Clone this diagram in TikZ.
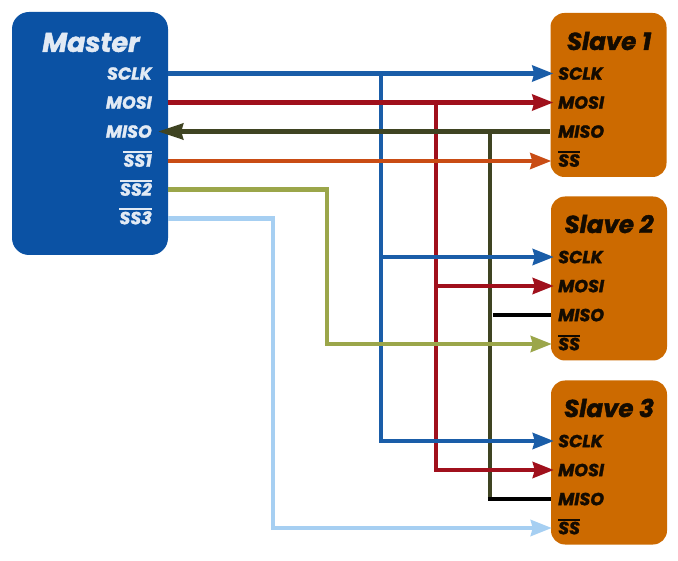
\documentclass[tikz,border=0pt]{standalone}
\usepackage{fontspec}
\setmainfont{Poppins}[BoldItalicFeatures={FakeBold=1.6}]
\usetikzlibrary{arrows.meta}
\definecolor{masterblue}{HTML}{0B52A4}
\definecolor{slaveorange}{HTML}{CC6A00}
\definecolor{sclkblue}{HTML}{1A5DA8}
\definecolor{mosired}{HTML}{A0101C}
\definecolor{misoolive}{HTML}{3F4422}
\definecolor{ssone}{HTML}{C94C14}
\definecolor{sstwo}{HTML}{9BA64A}
\definecolor{ssthree}{HTML}{A6CFF2}
\tikzset{
  x=1pt,y=-1pt,
  masterbox/.style={draw=none,fill=masterblue,rounded corners=17pt,minimum width=156pt,minimum height=243pt,inner sep=0pt},
  slavebox/.style={draw=none,fill=slaveorange,rounded corners=14pt,minimum width=116pt,minimum height=164pt,inner sep=0pt},
  mtitle/.style={font=\fontsize{27}{27}\selectfont\bfseries\itshape,text=white!88!masterblue,inner sep=0pt},
  stitle/.style={font=\fontsize{24.5}{24.5}\selectfont\bfseries\itshape,text=black!90!slaveorange,inner sep=0pt},
  mpin/.style={font=\fontsize{17.5}{17.5}\selectfont\bfseries\itshape,text=white!88!masterblue,inner sep=0pt,anchor=mid east},
  spin/.style={font=\fontsize{17.5}{17.5}\selectfont\bfseries\itshape,text=black!90!slaveorange,inner sep=0pt,anchor=mid west},
  wire/.style={line width=4.1pt,line join=miter},
  tip/.style={-{Stealth[length=21pt,width=16pt,inset=2pt]}},
  revtip/.style={{Stealth[length=25pt,width=16pt,inset=2pt]}-},
}
\newcommand{\ovl}[1]{\vbox{\hrule height 1.6pt\kern 1.2pt\hbox{#1}}}
\begin{document}
\begin{tikzpicture}
\useasboundingbox (0,0) rectangle (678,561);
\fill[white] (0,0) rectangle (678,561);
\node[masterbox] (master) at (90,133.5) {};
\node[slavebox] (s1) at (608.5,95) {};
\node[slavebox] (s2) at (609,278.5) {};
\node[slavebox] (s3) at (609,462.5) {};
\node[mtitle] (mt) at (91,42.5) {Master};
\node[stitle] (s1t) at (609,41) {Slave 1};
\node[stitle] (s2t) at (609,224) {Slave 2};
\node[stitle] (s3t) at (609,408) {Slave 3};
\node[mpin] (msclk) at (152,77) {SCLK};
\node[mpin] (mmosi) at (152,106) {MOSI};
\node[mpin] (mmiso) at (152,135) {MISO};
\node[mpin] (mssa) at (152,164) {\ovl{SS1}};
\node[mpin] (mssb) at (152,193) {\ovl{SS2}};
\node[mpin] (mssc) at (152,221.5) {\ovl{SS3}};
\foreach \s/\y in {s1/0,s2/183.5,s3/367.5}{
  \node[spin] (\s sclk) at (558,77+\y) {SCLK};
  \node[spin] (\s mosi) at (558,106+\y) {MOSI};
  \node[spin] (\s miso) at (558,135+\y) {MISO};
  \node[spin] (\s ss) at (558,164+\y) {\ovl{SS}};
}
% rail positions
\coordinate (rclk) at (381,0);
\coordinate (rmosi) at (436,0);
\coordinate (rmiso) at (490,0);
\coordinate (rssb) at (327,0);
\coordinate (rssc) at (273,0);
% row levels
\coordinate (y1) at (0,73.5); \coordinate (y2) at (0,102.5); \coordinate (y3) at (0,131.5);
\coordinate (y4) at (0,161); \coordinate (y5) at (0,189.5); \coordinate (y6) at (0,218.5);
\coordinate (a1) at (0,257); \coordinate (a2) at (0,286); \coordinate (a3) at (0,315); \coordinate (a4) at (0,344);
\coordinate (b1) at (0,441); \coordinate (b2) at (0,470); \coordinate (b3) at (0,499); \coordinate (b4) at (0,528);
% verticals and their last branches
\draw[wire,misoolive] (rmiso|-y3) -- (rmiso|-b3);
\draw[wire,black] ([xshift=-2.05pt]rmiso|-b3) -- (s3.west|-b3);
\draw[wire,black] ([xshift=3pt]rmiso|-a3) -- (s2.west|-a3);
\draw[wire,mosired,tip] (rmosi|-y2) -- (rmosi|-b2) -- ([xshift=3pt]s3.west|-b2);
\draw[wire,sclkblue,tip] (rclk|-y1) -- (rclk|-b1) -- ([xshift=3pt]s3.west|-b1);
% horizontals
\draw[wire,misoolive,revtip] ([xshift=-10pt]master.east|-y3) -- (s1.west|-y3);
\draw[wire,mosired,tip] (master.east|-y2) -- ([xshift=3pt]s1.west|-y2);
\draw[wire,mosired,tip] (rmosi|-a2) -- ([xshift=3pt]s2.west|-a2);
\draw[wire,ssone,tip] (master.east|-y4) -- ([xshift=1pt]s1.west|-y4);
\draw[wire,sclkblue,tip] (master.east|-y1) -- ([xshift=3pt]s1.west|-y1);
\draw[wire,sclkblue,tip] (rclk|-a1) -- ([xshift=3pt]s2.west|-a1);
\draw[wire,sstwo,tip] (master.east|-y5) -- (rssb|-y5) -- (rssb|-a4) -- ([xshift=1pt]s2.west|-a4);
\draw[wire,ssthree,tip] (master.east|-y6) -- (rssc|-y6) -- (rssc|-b4) -- ([xshift=1pt]s3.west|-b4);
\end{tikzpicture}
\end{document}
